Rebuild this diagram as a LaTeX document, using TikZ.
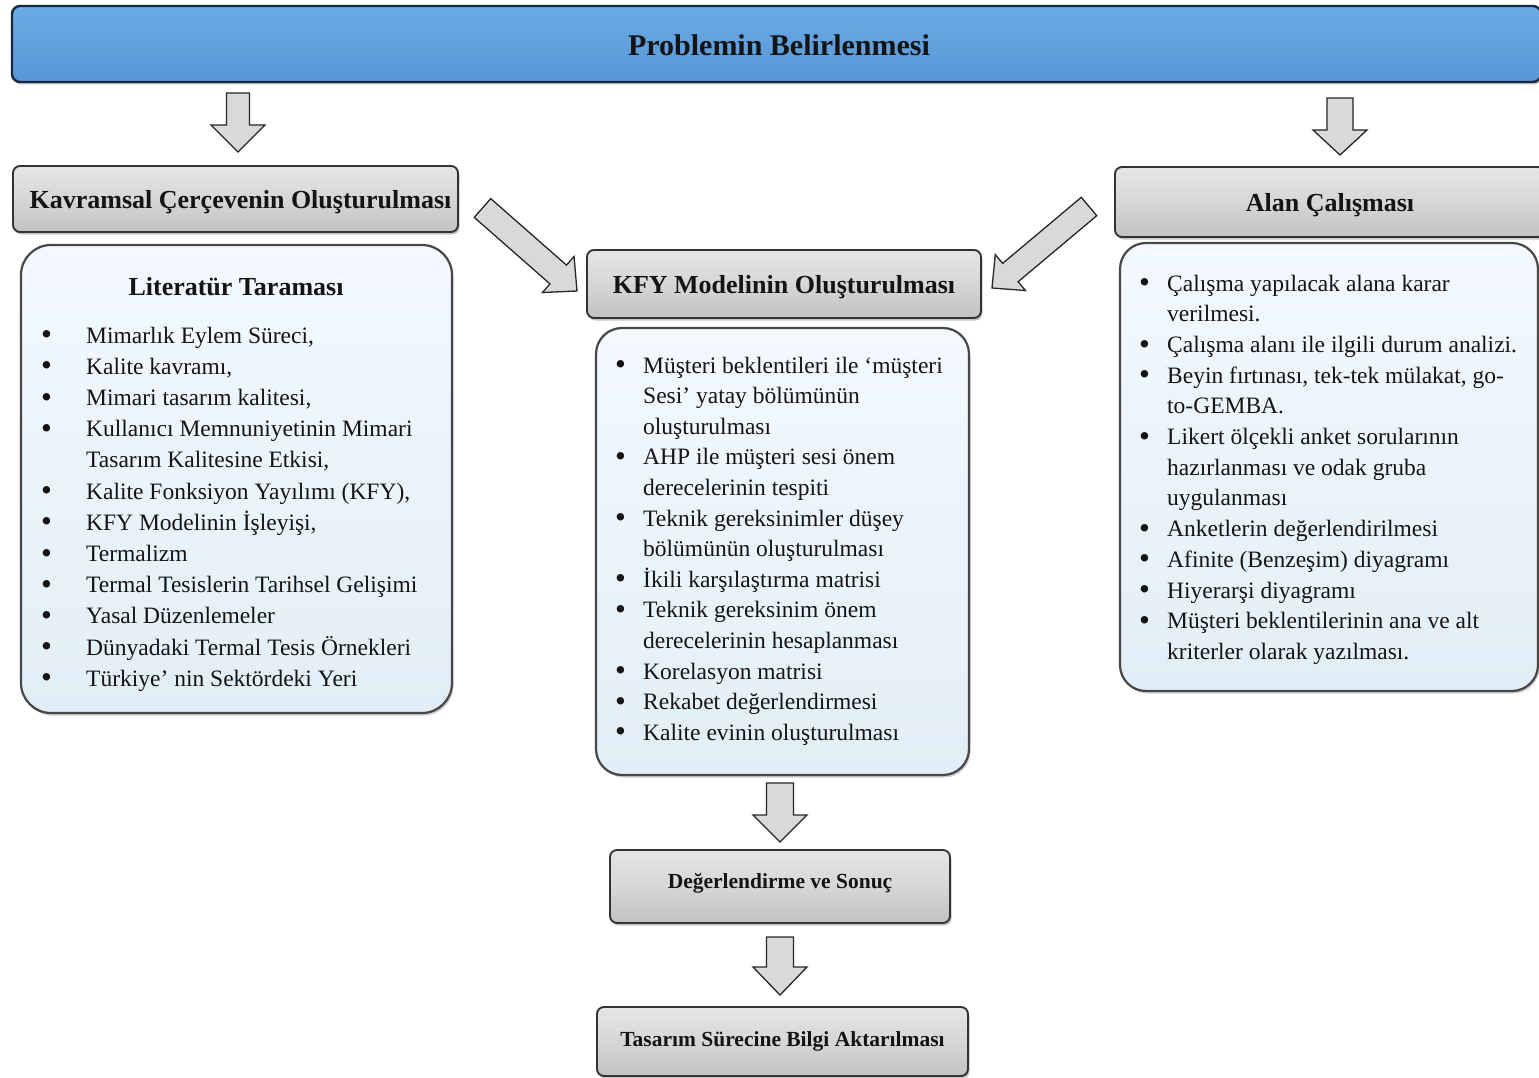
\documentclass[tikz,border=0pt]{standalone}
\usepackage{fontspec}
\setmainfont{Liberation Serif}
\usetikzlibrary{calc,shadows}

\definecolor{bannerTop}{HTML}{6AABE5}
\definecolor{bannerBot}{HTML}{5897D6}
\definecolor{bannerEdge}{HTML}{1B2740}
\definecolor{boxEdge}{HTML}{333333}
\definecolor{listTop}{HTML}{F3F9FE}
\definecolor{listBot}{HTML}{E2EEF7}
\definecolor{arrowFill}{HTML}{D9D9D9}
\definecolor{ink}{HTML}{141414}

% bullet column used by the lists
\newlength\bulletw
\newcommand{\bul}{\makebox[\bulletw][l]{\raisebox{-1.6pt}{\fontsize{31}{30}\selectfont\textbullet}}}
\newcommand{\cont}{\hspace*{\bulletw}}

% hollow block arrow: tail, tip, shaft half-width, head half-width, head length
\newcommand{\blockarrow}[5]{%
  \coordinate (#1-base) at ($(#2)!#5!(#1)$);
  \draw[barrow] ($(#1)!#3!90:(#2)$) -- ($(#1-base)!#3!90:(#2)$)
    -- ($(#1-base)!#4!90:(#2)$) -- (#2) -- ($(#1-base)!#4!-90:(#2)$)
    -- ($(#1-base)!#3!-90:(#2)$) -- ($(#1)!#3!-90:(#2)$) -- cycle;
}

\tikzset{
  banner/.style={draw=bannerEdge, line width=2.4pt, rounded corners=8pt,
    top color=bannerTop, bottom color=bannerBot, inner sep=0pt,
    drop shadow={shadow xshift=1pt, shadow yshift=-2.5pt, opacity=.45}},
  headbox/.style={draw=boxEdge, line width=1.9pt, rounded corners=7pt,
    top color=gray!20, bottom color=gray!48, middle color=gray!32, inner sep=0pt,
    drop shadow={shadow xshift=1.5pt, shadow yshift=-2.5pt, opacity=.45}},
  listbox/.style={draw=boxEdge!90, line width=2.2pt, rounded corners=26pt,
    top color=listTop, bottom color=listBot, inner sep=0pt,
    drop shadow={shadow xshift=1.5pt, shadow yshift=-2.5pt, opacity=.4}},
  barrow/.style={draw=black!85, line width=1.3pt, fill=arrowFill, line join=miter},
  titletext/.style={font=\fontsize{30}{34}\selectfont\bfseries, text=ink},
  headtext/.style={font=\fontsize{26}{30}\selectfont\bfseries, text=ink, text depth=0pt},
  smallhead/.style={font=\fontsize{21.5}{25}\selectfont\bfseries, text=ink},
  listtext/.style={anchor=base west, inner sep=0pt, text=ink},
}

\begin{document}
\begin{tikzpicture}[x=1pt,y=-1pt]
\fill[white] (0,0) rectangle (1539,1078);
\useasboundingbox (0,0) rectangle (1539,1078);

% top banner
\node[banner, minimum width=1529pt, minimum height=76pt] (prob) at (776.5,44) {};
\node[titletext] (probt) at (779,45) {Problemin Belirlenmesi};

% left column
\node[headbox, minimum width=445pt, minimum height=66pt, headtext] (kav) at (235.5,199)
  {\hspace*{10pt}Kavramsal Çerçevenin Oluşturulması};
\node[listbox, rounded corners=30pt, minimum width=431pt, minimum height=468pt] (lit) at (236.5,479) {};
\node[headtext] (litt) at (236,286) {Literatür Taraması};
\node[listtext] (litlist) at (41,343) {\fontsize{23.5}{31.2}\selectfont\setlength\bulletw{45pt}%
\parbox[t]{440pt}{\raggedright
\bul Mimarlık Eylem Süreci,\\
\bul Kalite kavramı,\\
\bul Mimari tasarım kalitesi,\\
\bul Kullanıcı Memnuniyetinin Mimari\\
\cont Tasarım Kalitesine Etkisi,\\
\bul Kalite Fonksiyon Yayılımı (KFY),\\
\bul KFY Modelinin İşleyişi,\\
\bul Termalizm\\
\bul Termal Tesislerin Tarihsel Gelişimi\\
\bul Yasal Düzenlemeler\\
\bul Dünyadaki Termal Tesis Örnekleri\\
\bul Türkiye’ nin Sektördeki Yeri}};

% middle column
\node[headbox, minimum width=394pt, minimum height=68pt, headtext] (kfy) at (784,284)
  {KFY Modelinin Oluşturulması};
\node[listbox, minimum width=373pt, minimum height=447pt] (kfyl) at (782.5,551.5) {};
\node[listtext] (kfylist) at (615,373) {\fontsize{23.5}{30.6}\selectfont\setlength\bulletw{28pt}%
\parbox[t]{400pt}{\raggedright
\bul Müşteri beklentileri ile ‘müşteri\\
\cont Sesi’ yatay bölümünün\\
\cont oluşturulması\\
\bul AHP ile müşteri sesi önem\\
\cont derecelerinin tespiti\\
\bul Teknik gereksinimler düşey\\
\cont bölümünün oluşturulması\\
\bul İkili karşılaştırma matrisi\\
\bul Teknik gereksinim önem\\
\cont derecelerinin hesaplanması\\
\bul Korelasyon matrisi\\
\bul Rekabet değerlendirmesi\\
\bul Kalite evinin oluşturulması}};

\node[headbox, minimum width=340pt, minimum height=73pt, smallhead, text depth=11pt] (deg) at (780,886.5)
  {Değerlendirme ve Sonuç};
\node[headbox, minimum width=371pt, minimum height=69pt, smallhead] (tas) at (782.5,1041.5)
  {Tasarım Sürecine Bilgi Aktarılması};

% right column
\node[headbox, minimum width=430pt, minimum height=70pt, headtext] (alan) at (1330,202)
  {Alan Çalışması};
\node[listbox, minimum width=418pt, minimum height=448pt] (alanl) at (1329,467) {};
\node[listtext] (alanlist) at (1139,291) {\fontsize{23.5}{30.7}\selectfont\setlength\bulletw{28pt}%
\parbox[t]{420pt}{\raggedright
\bul Çalışma yapılacak alana karar\\
\cont verilmesi.\\
\bul Çalışma alanı ile ilgili durum analizi.\\
\bul Beyin fırtınası, tek-tek mülakat, go-\\
\cont to-GEMBA.\\
\bul Likert ölçekli anket sorularının\\
\cont hazırlanması ve odak gruba\\
\cont uygulanması\\
\bul Anketlerin değerlendirilmesi\\
\bul Afinite (Benzeşim) diyagramı\\
\bul Hiyerarşi diyagramı\\
\bul Müşteri beklentilerinin ana ve alt\\
\cont kriterler olarak yazılması.}};

% arrow end points
\coordinate (a1) at (238,93);    \coordinate (a1e) at (238,152);
\coordinate (a2) at (1340,98);   \coordinate (a2e) at (1340,155);
\coordinate (a3) at (482.5,208); \coordinate (a3e) at (577,291);
\coordinate (a4) at (1089,206.5);\coordinate (a4e) at (992,288);
\coordinate (a5) at (780,783);   \coordinate (a5e) at (780,842);
\coordinate (a6) at (780,937);   \coordinate (a6e) at (780,995);

% block arrows
\blockarrow{a1}{a1e}{11.5pt}{27pt}{27pt}
\blockarrow{a2}{a2e}{13pt}{27pt}{25pt}
\blockarrow{a3}{a3e}{12.5pt}{24pt}{25pt}
\blockarrow{a4}{a4e}{12pt}{23.5pt}{24pt}
\blockarrow{a5}{a5e}{13.5pt}{27pt}{27pt}
\blockarrow{a6}{a6e}{13.5pt}{27pt}{28pt}
\end{tikzpicture}
\end{document}
